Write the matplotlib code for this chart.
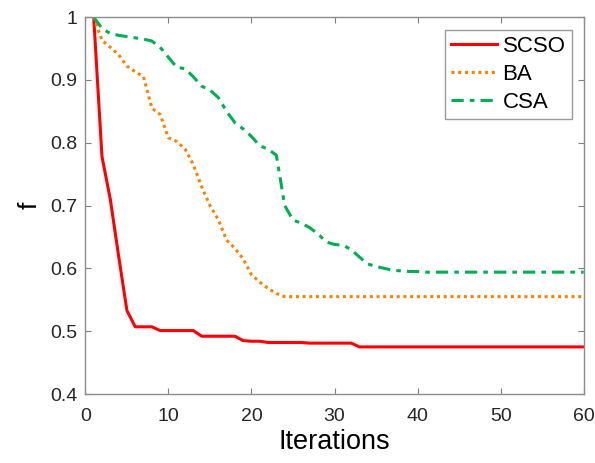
import numpy as np
import matplotlib
matplotlib.use("Agg")
import matplotlib.pyplot as plt

plt.rcParams['font.family'] = ['Liberation Sans', 'DejaVu Sans']

iterations = list(range(1, 61))

scso = [1.0, 0.778, 0.71, 0.62, 0.533, 0.507, 0.507, 0.507, 0.501, 0.501,
        0.501, 0.501, 0.501, 0.492, 0.492, 0.492, 0.492, 0.492, 0.485, 0.484,
        0.484, 0.482, 0.482, 0.482, 0.482, 0.482, 0.481, 0.481, 0.481, 0.481,
        0.481, 0.481] + [0.475] * 28

ba = [1.0, 0.963, 0.952, 0.94, 0.922, 0.913, 0.905, 0.855, 0.845, 0.808,
      0.802, 0.79, 0.765, 0.73, 0.70, 0.678, 0.645, 0.632, 0.615, 0.59,
      0.578, 0.568, 0.56] + [0.555] * 37

csa = [1.0, 0.982, 0.974, 0.971, 0.969, 0.967, 0.965, 0.962, 0.952, 0.936,
       0.92, 0.918, 0.905, 0.89, 0.884, 0.872, 0.85, 0.832, 0.822, 0.81,
       0.795, 0.79, 0.78, 0.70, 0.677, 0.672, 0.665, 0.655, 0.642, 0.638,
       0.637, 0.63, 0.618, 0.607, 0.603, 0.60, 0.597, 0.596, 0.595, 0.595] + [0.594] * 20

labels = ["SCSO", "BA", "CSA"]
xticks = [0, 10, 20, 30, 40, 50, 60]
yticks = [0.4, 0.5, 0.6, 0.7, 0.8, 0.9, 1.0]
ytick_labels = ["0.4", "0.5", "0.6", "0.7", "0.8", "0.9", "1"]

fig = plt.figure(figsize=(5.95, 4.63), dpi=100)
ax = fig.add_axes([0.1435, 0.149, 0.8375, 0.814])

ax.plot(iterations, scso, color='#FF0000', linewidth=2.2, linestyle='-', label=labels[0])
ax.plot(iterations, ba, color='#FF8000', linewidth=2.2, linestyle=(0, (1, 1.2)), label=labels[1])
ax.plot(iterations, csa, color='#00B050', linewidth=2.2, linestyle=(0, (4, 2, 1.5, 2)), label=labels[2])

ax.set_xlim(0, 60)
ax.set_ylim(0.4, 1.0)
ax.set_xticks(xticks)
ax.set_yticks(yticks)
ax.set_yticklabels(ytick_labels)
ax.tick_params(direction='in', length=4, width=0.8, labelcolor='#262626', labelsize=14,
               top=True, right=True, color='#808080')
ax.tick_params(axis='x', pad=10)
ax.tick_params(axis='y', pad=6)
for s in ax.spines.values():
    s.set_color('#8c8c8c')
    s.set_linewidth(1.0)

ax.set_xlabel("Iterations", fontsize=19.5, labelpad=3)
ax.set_ylabel("f", fontsize=19, labelpad=6)

leg = ax.legend(loc='upper right', fontsize=16, frameon=True, fancybox=False,
                edgecolor='#808080', handlelength=2.05, borderpad=0.3,
                labelspacing=0.3, handletextpad=0.25, borderaxespad=0,
                bbox_to_anchor=(0.977, 0.967))
leg.get_frame().set_linewidth(1.0)

fig.savefig("out.png", dpi=100)
